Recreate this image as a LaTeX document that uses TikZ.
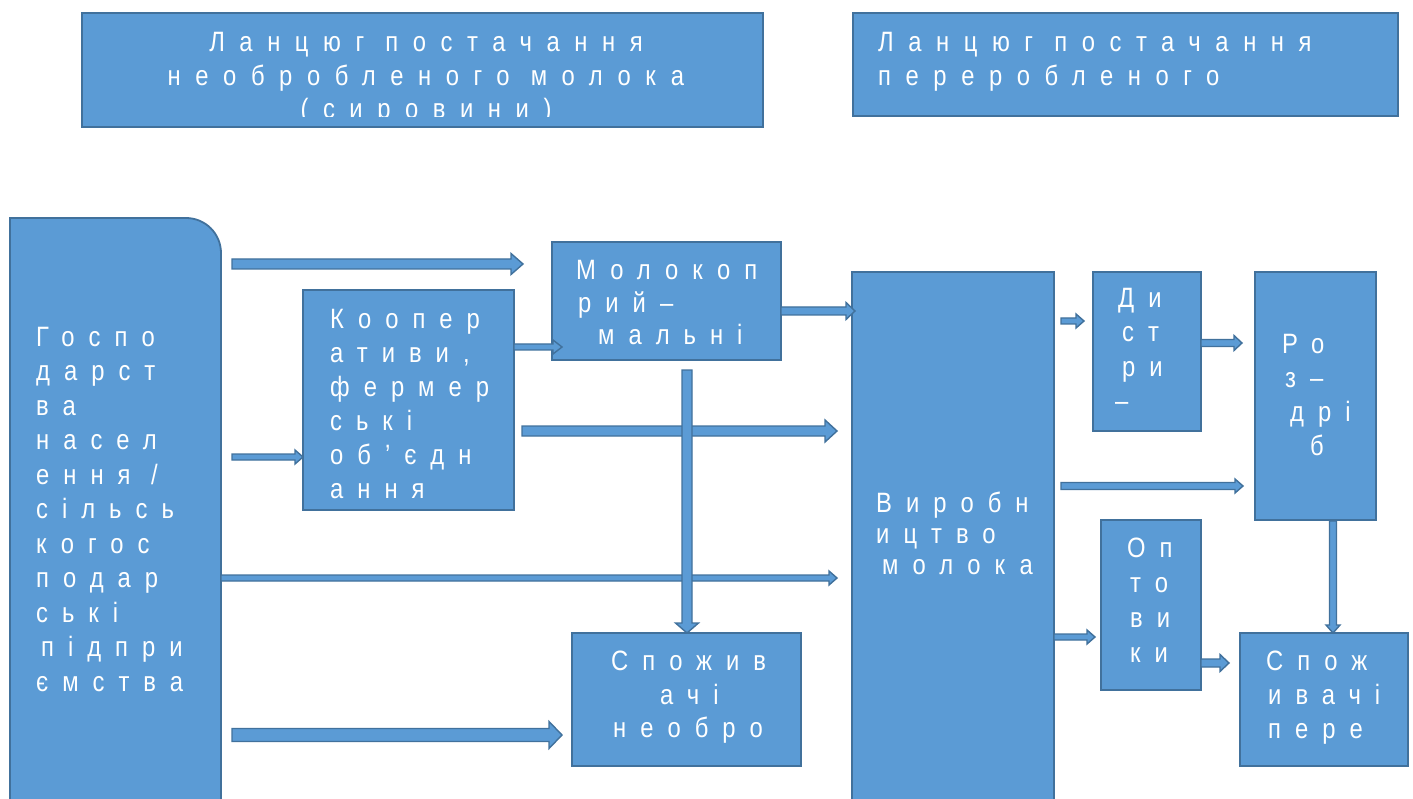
\documentclass[tikz,border=0pt]{standalone}
\usepackage{fontspec}
\usetikzlibrary{calc}
\newfontfamily\dtxt[FakeStretch=0.85,LetterSpace=50]{Liberation Sans}
\newfontfamily\ttxt[FakeStretch=0.85,LetterSpace=52]{Liberation Sans}
\definecolor{bfill}{HTML}{5B9BD5}
\definecolor{bline}{HTML}{41719C}
\tikzset{
  box/.style={draw=bline, fill=bfill, line width=1.8pt, rectangle, inner sep=0pt},
  barrow/.style={draw=bline, fill=bfill, line width=1.4pt, line join=miter},
  txt/.style={font=\dtxt\fontsize{28}{#1}\selectfont, text=white, align=left, inner sep=0pt, anchor=north west},
  ttl/.style={font=\ttxt\fontsize{28}{#1}\selectfont, text=white, inner sep=0pt},
}
% horizontal block arrow: from, to, shaft half, head half, head length
\newcommand\harr[5]{\draw[barrow] let \p1=(#1),\p2=(#2) in
  (\x1,\y1+#3pt) -- (\x2-#5pt,\y1+#3pt) -- (\x2-#5pt,\y1+#4pt) -- (\x2,\y1)
  -- (\x2-#5pt,\y1-#4pt) -- (\x2-#5pt,\y1-#3pt) -- (\x1,\y1-#3pt) -- cycle;}
% vertical (downward) block arrow
\newcommand\varr[5]{\draw[barrow] let \p1=(#1),\p2=(#2) in
  (\x1-#3pt,\y1) -- (\x1-#3pt,\y2+#5pt) -- (\x1-#4pt,\y2+#5pt) -- (\x1,\y2)
  -- (\x1+#4pt,\y2+#5pt) -- (\x1+#3pt,\y2+#5pt) -- (\x1+#3pt,\y1) -- cycle;}
\begin{document}
\begin{tikzpicture}[x=1pt,y=-1pt]
\useasboundingbox (0,0) rectangle (1413,799);

% ---- boxes ----
\node[box, minimum width=681pt, minimum height=114pt] (top1) at (422.5,70) {};
\node[box, minimum width=545pt, minimum height=103pt] (top2) at (1125.5,64.5) {};
\draw[box] (10,810) -- (10,218) -- (186,218) arc[start angle=-90, end angle=0, radius=35] -- (221,810) -- cycle;
\coordinate (left) at (115.5,500);
\node[box, minimum width=211pt, minimum height=220pt] (coop) at (408.5,400) {};
\node[box, minimum width=229pt, minimum height=118pt] (milk) at (666.5,301) {};
\node[box, minimum width=229pt, minimum height=133pt] (cons1) at (686.5,699.5) {};
\node[box, minimum width=202pt, minimum height=538pt] (prod) at (953,541) {};
\node[box, minimum width=108pt, minimum height=159pt] (dist) at (1147,351.5) {};
\node[box, minimum width=121pt, minimum height=248pt] (retail) at (1315.5,396) {};
\node[box, minimum width=100pt, minimum height=170pt] (whole) at (1151,605) {};
\node[box, minimum width=168pt, minimum height=133pt] (cons2) at (1324,699.5) {};

% ---- texts ----
\begin{scope}
\clip (82,13) rectangle (763,117);
\node[ttl=33.5, align=center, anchor=north] (t1) at (426,28) {\strut Ланцюг постачання\\необробленого молока\\(сировини)};
\end{scope}
\node[ttl=33.5, align=left, anchor=north west] (t2) at (878,28) {\strut Ланцюг постачання\\переробленого};
\node[txt=34.5] (tl) at (36,322) {\strut Госпо\\дарст\\ва\\насел\\ення /\\сільсь\\когос\\подар\\ські\\\hspace*{5pt}підпри\\ємства};
\begin{scope}
\clip (303,290) rectangle (514,500);
\node[txt=34] (tc) at (330,304) {\strut Коопер\\ативи,\\фермер\\ські\\об’єдн\\ання};
\end{scope}
\node[txt=32.5] (tm) at (576,257) {\strut Молокоп\\\hspace*{2pt}рий–\\\hspace*{22pt}мальні};
\node[txt=33.5] (tn) at (611,647) {\strut Спожив\\\hspace*{49pt}ачі\\\hspace*{2pt}необро};
\node[txt=31] (tp) at (876,491) {\strut Виробн\\ицтво\\\hspace*{6pt}молока};
\node[txt=34] (td) at (1115,284) {\strut \hspace*{3pt}Ди\\\hspace*{7pt}ст\\\hspace*{7pt}ри\\–};
\node[txt=34] (tr) at (1282,329) {\strut Ро\\\hspace*{3pt}з–\\\hspace*{8pt}дрі\\\hspace*{28pt}б};
\node[txt=35] (tw) at (1127,533) {\strut Оп\\\hspace*{3pt}то\\\hspace*{3pt}ви\\\hspace*{3pt}ки};
\node[txt=34] (tq) at (1266,646) {\strut Спож\\\hspace*{2pt}ивачі\\\hspace*{2pt}пере};

% ---- arrow end points ----
\coordinate (a1s) at (232,264);  \coordinate (a1e) at (523,264);
\coordinate (a2s) at (232,457);  \coordinate (a2e) at (303,457);
\coordinate (a3s) at (514,347);  \coordinate (a3e) at (562,347);
\coordinate (a4s) at (522,431);  \coordinate (a4e) at (837,431);
\coordinate (a5s) at (221,578);  \coordinate (a5e) at (837,578);
\coordinate (a6s) at (232,735);  \coordinate (a6e) at (562,735);
\coordinate (a7s) at (687,370);  \coordinate (a7e) at (687,633);
\coordinate (a8s) at (781,311);  \coordinate (a8e) at (855,311);
\coordinate (a9s) at (1061,321); \coordinate (a9e) at (1084,321);
\coordinate (a10s) at (1201,343); \coordinate (a10e) at (1242,343);
\coordinate (a11s) at (1061,486); \coordinate (a11e) at (1243,486);
\coordinate (a12s) at (1054,637); \coordinate (a12e) at (1095,637);
\coordinate (a13s) at (1201,663); \coordinate (a13e) at (1229,663);
\coordinate (a14s) at (1333,521); \coordinate (a14e) at (1333,633);

% ---- arrows ----
\harr{a1s}{a1e}{5}{10.5}{12}
\harr{a2s}{a2e}{3}{7}{8}
\harr{a3s}{a3e}{3}{7}{9}
\harr{a4s}{a4e}{5}{11}{12}
\harr{a5s}{a5e}{3}{7}{8}
\harr{a6s}{a6e}{6.5}{13.5}{13}
\harr{a8s}{a8e}{4}{8.5}{9}
\harr{a9s}{a9e}{3}{7}{8}
\harr{a10s}{a10e}{3.5}{7.5}{8}
\harr{a11s}{a11e}{3.5}{7}{8}
\harr{a12s}{a12e}{3}{7}{8}
\harr{a13s}{a13e}{4}{8.5}{9}
\varr{a14s}{a14e}{3.5}{7}{8}
\varr{a7s}{a7e}{5}{11.5}{10}
\end{tikzpicture}
\end{document}
